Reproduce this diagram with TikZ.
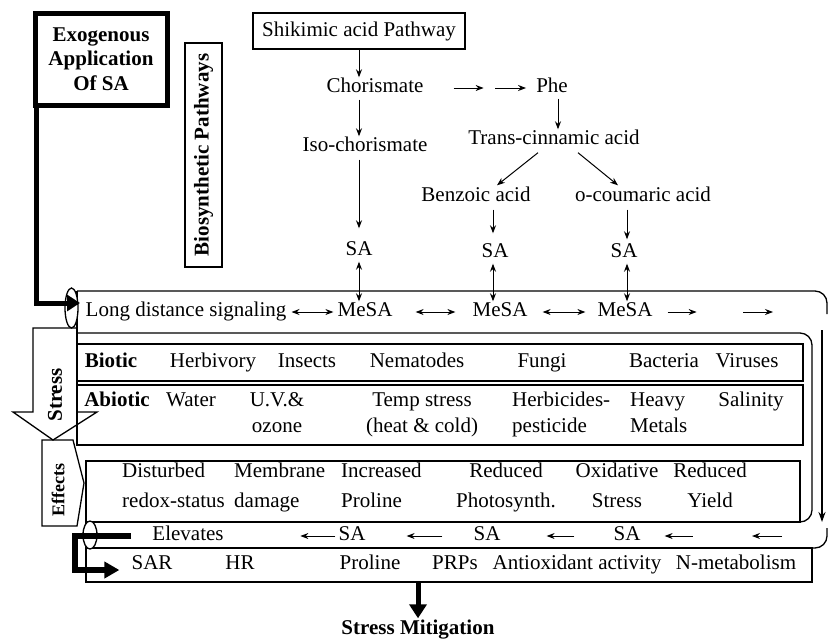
\documentclass[tikz,border=0pt]{standalone}
\usepackage{fontspec}
\setmainfont{Liberation Serif}
\usetikzlibrary{arrows.meta,calc}
\begin{document}
\begin{tikzpicture}[x=1pt,y=-1pt,
  txt/.style={inner sep=1pt, text height=14pt, text depth=5pt, font=\fontsize{21}{24}\selectfont},
  btxt/.style={inner sep=1pt, text height=14pt, text depth=5pt, font=\fontsize{21}{24}\selectfont\bfseries},
  twoa/.style={inner sep=1pt, text depth=5pt, align=center, font=\fontsize{21}{26}\selectfont},
  twol/.style={inner sep=1pt, text depth=5pt, align=left, anchor=west, font=\fontsize{21}{26}\selectfont},
  twoe/.style={inner sep=1pt, text depth=5pt, align=center, font=\fontsize{21}{30}\selectfont},
  twoel/.style={inner sep=1pt, text depth=5pt, align=left, anchor=west, font=\fontsize{21}{30}\selectfont},
  box/.style={draw, line width=1.3pt},
  arr/.style={-{Stealth[length=8pt,width=6pt]}, line width=1pt},
  darr/.style={{Stealth[length=8pt,width=6pt]}-{Stealth[length=8pt,width=6pt]}, line width=1pt},
  fat/.style={line width=5pt, -{Triangle[length=14pt,width=17pt]}},
]
\useasboundingbox (0,0) rectangle (829,643);

% ---------- containers ----------
\draw[box, rounded corners=12pt] (77,291) -- (827,291) -- (827,314);
\draw[box, rounded corners=12pt] (827,528) -- (827,548) -- (86,548);
\draw[box] (77,291) -- (77,445);
\draw[box, rounded corners=12pt] (77,333) -- (812,333) -- (812,522) -- (86,522);
\draw[box] (77,344) rectangle (803,381);
\draw[box] (77,385) rectangle (803,445);
\draw[box] (86,461) rectangle (800,522);
\draw[box] (86,522) -- (86,548);
\draw[box] (86,548) rectangle (812,582);
\draw[line width=1.8pt, -{Stealth[length=10pt,width=7pt]}] (822,330) -- (822,522);

% Stress arrow and Effects tag
\draw[box] (33,328) -- (77,328) -- (77,412) -- (97,412) -- (53,440) -- (13,412) -- (33,412) -- cycle;
\draw[box] (42,440) -- (73,440) -- (84,483) -- (77,526) -- (42,526) -- cycle;
\node[inner sep=1pt, font=\fontsize{21}{24}\selectfont\bfseries, rotate=90] (stress) at (55,395) {Stress};
\node[inner sep=1pt, font=\fontsize{18}{20}\selectfont\bfseries, rotate=90] (effects) at (58,490) {Effects};

% ellipses
\draw[box, fill=white] (71.5,308) ellipse [x radius=6.5pt, y radius=20pt];
\draw[box, fill=white] (90,535) ellipse [x radius=7pt, y radius=14pt];

% ---------- top boxes ----------
\node[draw, line width=5pt, outer sep=0pt, minimum width=132pt, minimum height=92pt,
      inner sep=0pt, align=center, font=\fontsize{21}{24.5}\selectfont\bfseries] (exo) at (101,59)
      {Exogenous\\Application\\Of SA};
\node[draw, line width=1.3pt, rotate=90, minimum width=224pt, minimum height=37pt, inner sep=0pt,
      font=\fontsize{21}{24}\selectfont\bfseries] (bio) at (203.5,155) {Biosynthetic Pathways};
\node[draw, line width=1.3pt, minimum width=212pt, minimum height=36pt, inner sep=0pt,
      font=\fontsize{21}{24}\selectfont] (shik) at (359,31) {Shikimic acid Pathway};

\coordinate (exoin) at (80,303);
\draw[line width=5pt, -{Triangle[length=13pt,width=16pt]}] ([xshift=1pt]exo.south west) |- (exoin);

% ---------- pathway nodes ----------
\node[txt] (chor) at (375,88) {Chorismate};
\node[txt] (phe) at (552,88) {Phe};
\node[txt] (trans) at (554,140) {Trans-cinnamic acid};
\node[txt] (iso) at (365,147) {Iso-chorismate};
\node[txt] (benz) at (476,197) {Benzoic acid};
\node[txt] (ocoum) at (643,197) {o-coumaric acid};
\node[txt] (sa1) at (359,251) {SA};
\node[txt] (sa2) at (495,253) {SA};
\node[txt] (sa3) at (624,253) {SA};

\draw[arr] (shik.south) -- (shik.south |- chor.north);
\draw[arr] ($(shik.south |- chor.south)+(0,1)$) -- (shik.south |- iso.north);
\draw[arr, shorten >=12pt] ($(sa1.north |- iso.south)+(0,2)$) -- (sa1.north);
\draw[arr] ([xshift=29pt]chor.east) -- ([xshift=59pt]chor.east);
\draw[arr] ([xshift=-40pt]phe.west) -- ([xshift=-9pt]phe.west);
\draw[arr] ($(phe.south)+(6,0)$) -- ($(phe.south |- trans.north)+(6,0)$);
\draw[arr] ($(trans.south)+(-16,2)$) -- ($(benz.north)+(21,-1)$);
\draw[arr] ($(trans.south)+(24,2)$) -- ($(ocoum.north)+(-25,-1)$);
\draw[arr, shorten >=9pt] ($(sa2.north |- benz.south)+(-2,2)$) -- ($(sa2.north)+(-2,0)$);
\draw[arr, shorten >=3pt] ($(sa3.north |- ocoum.south)+(3,2)$) -- ($(sa3.north)+(3,0)$);

% ---------- row 1 ----------
\node[txt] (lds) at (186,312) {Long distance signaling};
\node[txt] (mesa1) at (365,312) {MeSA};
\node[txt] (mesa2) at (500,312) {MeSA};
\node[txt] (mesa3) at (625,312) {MeSA};
\draw[darr] (sa1.south) -- (sa1.south |- mesa1.north);
\draw[darr] ($(sa2.south)+(-2,0)$) -- ($(sa2.south |- mesa2.north)+(-2,0)$);
\draw[darr] ($(sa3.south)+(3,0)$) -- ($(sa3.south |- mesa3.north)+(3,0)$);
\draw[darr, shorten <=4pt, shorten >=3pt] (lds.east) -- (mesa1.west);
\draw[darr, shorten <=22pt, shorten >=16pt] (mesa1.east) -- (mesa2.west);
\draw[darr, shorten <=14pt, shorten >=11pt] (mesa2.east) -- (mesa3.west);
\draw[arr] ([xshift=14pt]mesa3.east) -- ([xshift=43pt]mesa3.east);
\coordinate (r1a) at (743,312);
\coordinate (r1b) at (773,312);
\draw[arr] (r1a) -- (r1b);

% ---------- biotic row ----------
\node[btxt] (biotic) at (111,363) {Biotic};
\node[txt] (herb) at (213,363) {Herbivory};
\node[txt] (insects) at (307,363) {Insects};
\node[txt] (nema) at (417,363) {Nematodes};
\node[txt] (fungi) at (542,363) {Fungi};
\node[txt] (bact) at (664,363) {Bacteria};
\node[txt] (vir) at (747,363) {Viruses};

% ---------- abiotic row ----------
\node[btxt] (abiotic) at (117,402) {Abiotic};
\node[txt] (water) at (191,402) {Water};
\node[twoa] (uv) at (277,415) {U.V.\&\\ozone};
\node[twoa] (temp) at (422,415) {Temp stress\\(heat \& cold)};
\node[twol] (herbi) at (511,415) {Herbicides-\\pesticide};
\node[twol] (heavy) at (629,415) {Heavy\\Metals};
\node[txt] (sal) at (751,402) {Salinity};

% ---------- effects row ----------
\node[twoel] (dist) at (121,488) {Disturbed\\redox-status};
\node[twoel] (memb) at (233,488) {Membrane\\damage};
\node[twoel] (incr) at (340,488) {Increased\\Proline};
\node[twoe] (redp) at (506,488) {Reduced\\Photosynth.};
\node[twoe] (oxid) at (617,488) {Oxidative\\Stress};
\node[twoe] (redy) at (710,488) {Reduced\\Yield};

% ---------- elevates row ----------
\node[txt] (elev) at (188,536) {Elevates};
\node[txt] (sa4) at (352,536) {SA};
\node[txt] (sa5) at (487,536) {SA};
\node[txt] (sa6) at (627,536) {SA};
\draw[arr] ([xshift=-2pt]sa4.west) -- ([xshift=-37pt]sa4.west);
\draw[arr, shorten <=30pt, shorten >=40pt] (sa5.west) -- (sa4.east);
\draw[arr, shorten <=38pt, shorten >=45pt] (sa6.west) -- (sa5.east);
\draw[arr] ([xshift=51pt]sa6.east) -- ([xshift=23pt]sa6.east);
\coordinate (r5a) at (782,536);
\coordinate (r5b) at (752,536);
\draw[arr] (r5a) -- (r5b);

% ---------- SAR row ----------
\node[txt] (sar) at (152,565) {SAR};
\node[txt] (hr) at (240,565) {HR};
\node[txt] (pro2) at (370,565) {Proline};
\node[txt] (prps) at (455,565) {PRPs};
\node[txt] (antiox) at (577,565) {Antioxidant activity};
\node[txt] (nmet) at (736,565) {N-metabolism};

\coordinate (brs) at (131,536);
\draw[line width=6pt, -{Triangle[length=15pt,width=16pt]}] (brs) -- (75,536) -- (75,570) -- ($(sar.west)+(-11,5)$);

% ---------- mitigation ----------
\node[btxt] (mitig) at (418,630) {Stress Mitigation};
\coordinate (sarbot) at (418,583);
\draw[fat] (sarbot) -- ($(mitig.north)+(0,-1)$);

\end{tikzpicture}
\end{document}
